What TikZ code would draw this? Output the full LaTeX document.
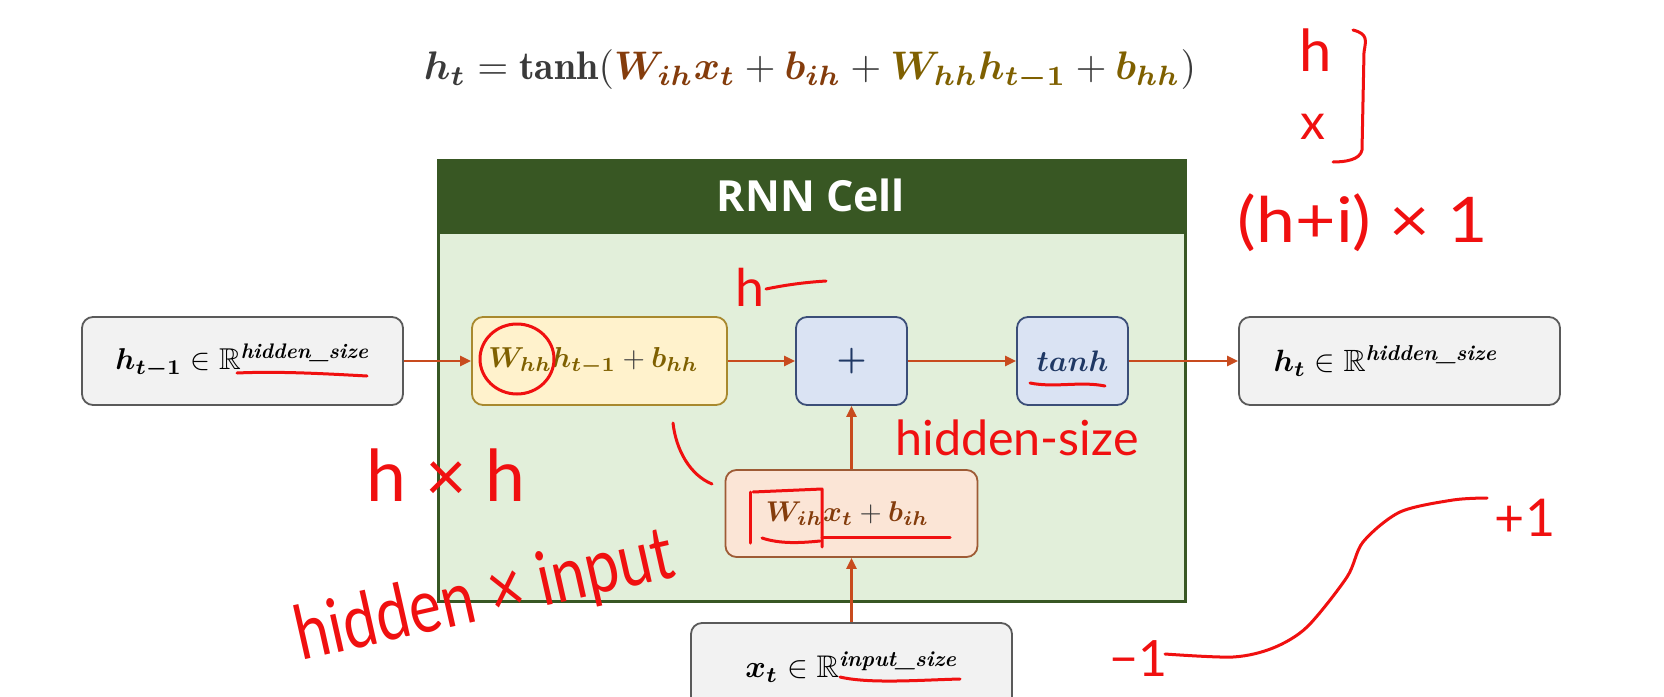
\documentclass[tikz,border=0pt]{standalone}
\usepackage{amsmath}
\usepackage{amssymb}
\usepackage{bm}
\usepackage{fontspec}
\setsansfont{Open Sans}
\newfontfamily\handfont{Lato}
\usetikzlibrary{arrows.meta}
\definecolor{cellgreen}{HTML}{385723}
\definecolor{cellbody}{HTML}{E2EFDA}
\definecolor{grayfill}{HTML}{F2F2F2}
\definecolor{grayborder}{HTML}{5A5A5A}
\definecolor{whfill}{HTML}{FFF2CC}
\definecolor{whborder}{HTML}{A8892E}
\definecolor{whtext}{HTML}{7F6000}
\definecolor{wifill}{HTML}{FBE5D6}
\definecolor{wiborder}{HTML}{9E5B35}
\definecolor{witext}{HTML}{843C0C}
\definecolor{bluefill}{HTML}{DAE3F3}
\definecolor{blueborder}{HTML}{3B4E78}
\definecolor{bluetext}{HTML}{1F3864}
\definecolor{arrowred}{HTML}{C84B1E}
\definecolor{inkred}{HTML}{F01010}
\definecolor{eqgray}{HTML}{3A3A3A}
\newcommand{\fitw}[2]{\resizebox{#1}{!}{#2}}
\newcommand{\fitwh}[3]{\resizebox*{#1}{#2}{#3}}
\newcommand{\gplus}{\mathbin{\textcolor{eqgray}{+}}}
\begin{document}
\begin{tikzpicture}[x=1pt,y=-1pt,
  box/.style={rounded corners=11pt, line width=1.8pt, minimum height=88pt, inner sep=0pt},
  graybox/.style={box, draw=grayborder, fill=grayfill, minimum width=321pt},
  whbox/.style={box, draw=whborder, fill=whfill, minimum width=255pt, text=whtext},
  wibox/.style={box, draw=wiborder, fill=wifill, minimum width=252pt, minimum height=87pt, text=witext},
  opbox/.style={box, draw=blueborder, fill=bluefill, minimum width=111pt, text=bluetext},
  flow/.style={draw=arrowred, line width=2.4pt, -{Triangle[length=11pt,width=10pt]}},
  ink/.style={draw=inkred, line width=3pt, line cap=round, line join=round},
  handtext/.style={text=inkred, font=\handfont, inner sep=0pt}
]
\useasboundingbox (0,0) rectangle (1664,696);
\fill[white] (0,0) rectangle (1664,696);

% equation
\node[text=eqgray] (eq) at (810,70) {\fitw{772pt}{$\bm{h_t} = \mathbf{tanh}(\textcolor{witext}{\bm{W_{ih}x_t}} \gplus \textcolor{witext}{\bm{b_{ih}}} + \textcolor{whtext}{\bm{W_{hh}h_{t-1}}} \gplus \textcolor{whtext}{\bm{b_{hh}}})$}};

% RNN cell
\node[draw=cellgreen, fill=cellbody, line width=3pt, anchor=north west, minimum width=747pt, minimum height=441pt, inner sep=0pt] (cell) at (437,159) {};
\node[draw=cellgreen, fill=cellgreen, line width=3pt, anchor=north west, minimum width=747pt, minimum height=72pt, inner sep=0pt] (head) at (437,159) {};
\node[text=white, font=\sffamily\bfseries] (title) at (811,195) {\fitw{188pt}{RNN Cell}};

% boxes
\node[graybox] (hprev) at (242.5,361) {\fitw{254pt}{$\bm{h_{t-1}} \in \mathbb{R}^{\text{\bfseries\itshape hidden\_size}}$}};
\node[whbox] (wh) at (599.5,361) {\fitw{210pt}{$\bm{W_{hh}h_{t-1}} \gplus \bm{b_{hh}}$}\hspace*{12pt}};
\node[opbox] (plus) at (851.5,361) {\fitw{30pt}{$\bm{+}$}};
\node[opbox] (tanh) at (1072.5,361) {\fitw{72pt}{$\bm{tanh}$}};
\node[graybox] (hnext) at (1399.5,361) {\fitw{224pt}{$\bm{h_t} \in \mathbb{R}^{\text{\bfseries\itshape hidden\_size}}$}\hspace*{28pt}};
\node[wibox] (wi) at (851.5,513.5) {\fitw{163pt}{$\bm{W_{ih}x_t} \gplus \bm{b_{ih}}$}\hspace*{8pt}};
\node[graybox] (xt) at (851.5,667) {\fitw{212pt}{$\bm{x_t} \in \mathbb{R}^{\text{\bfseries\itshape input\_size}}$}};

% connectors
\draw[flow] (hprev.east) -- (wh.west);
\draw[flow] (wh.east) -- (plus.west);
\draw[flow] (plus.east) -- (tanh.west);
\draw[flow] (tanh.east) -- (hnext.west);
\draw[flow] (wi.north) -- (plus.south);
\draw[flow] (xt.north) -- (wi.south);

% handwritten annotations
\node[handtext, font=\handfont\fontsize{58}{60}\selectfont] (ah) at (1316,50) {h};
\node[handtext, font=\handfont\fontsize{50}{56}\selectfont] (ax) at (1313,127) {x};
\draw[ink] (1353,30) .. controls (1368,34) and (1366,40) .. (1364,52) -- (1362,150) .. controls (1360,160) and (1345,162) .. (1333,162);
\node[handtext] (hi) at (1363,223) {\fitwh{250pt}{58pt}{(h+i) × 1}};
\node[handtext, font=\handfont\fontsize{52}{56}\selectfont] (ah2) at (750,287) {h};
\draw[ink] (766,289) .. controls (790,284) and (810,282) .. (826,281);
\node[handtext] (hxh) at (446,475) {\fitw{158pt}{h × h}};
\node[handtext, rotate=12.7] (hxi) at (485,598) {\fitwh{385pt}{68pt}{hidden × input}};
\node[handtext] (hs) at (1017,438) {\fitw{243pt}{hidden-size}};
\node[handtext, font=\handfont\fontsize{50}{56}\selectfont] (m1) at (1138,659) {−1};
\node[handtext, font=\handfont\fontsize{52}{56}\selectfont] (p1) at (1525,518) {+1};

% strokes
\draw[ink] (517,359) ellipse [x radius=37pt, y radius=35pt];
\draw[ink] (237,373) .. controls (280,371) and (330,374) .. (367,376);
\draw[ink] (1030,383) .. controls (1055,388) and (1080,381) .. (1105,386);
\draw[ink] (750,492) -- (750,543);
\draw[ink] (753,492) -- (822,489) -- (822,547);
\draw[ink] (762,538) .. controls (780,544) and (800,543) .. (820,541);
\draw[ink] (822,537) -- (950,537);
\draw[ink] (840,677) .. controls (870,684) and (920,680) .. (960,679);
\draw[ink] (673,423) .. controls (676,450) and (690,475) .. (712,484);
\draw[ink] plot[smooth] coordinates {(1165,654) (1233,657) (1273,648) (1307,627) (1347,577) (1363,542) (1400,512) (1453,500) (1487,498)};
\end{tikzpicture}
\end{document}
